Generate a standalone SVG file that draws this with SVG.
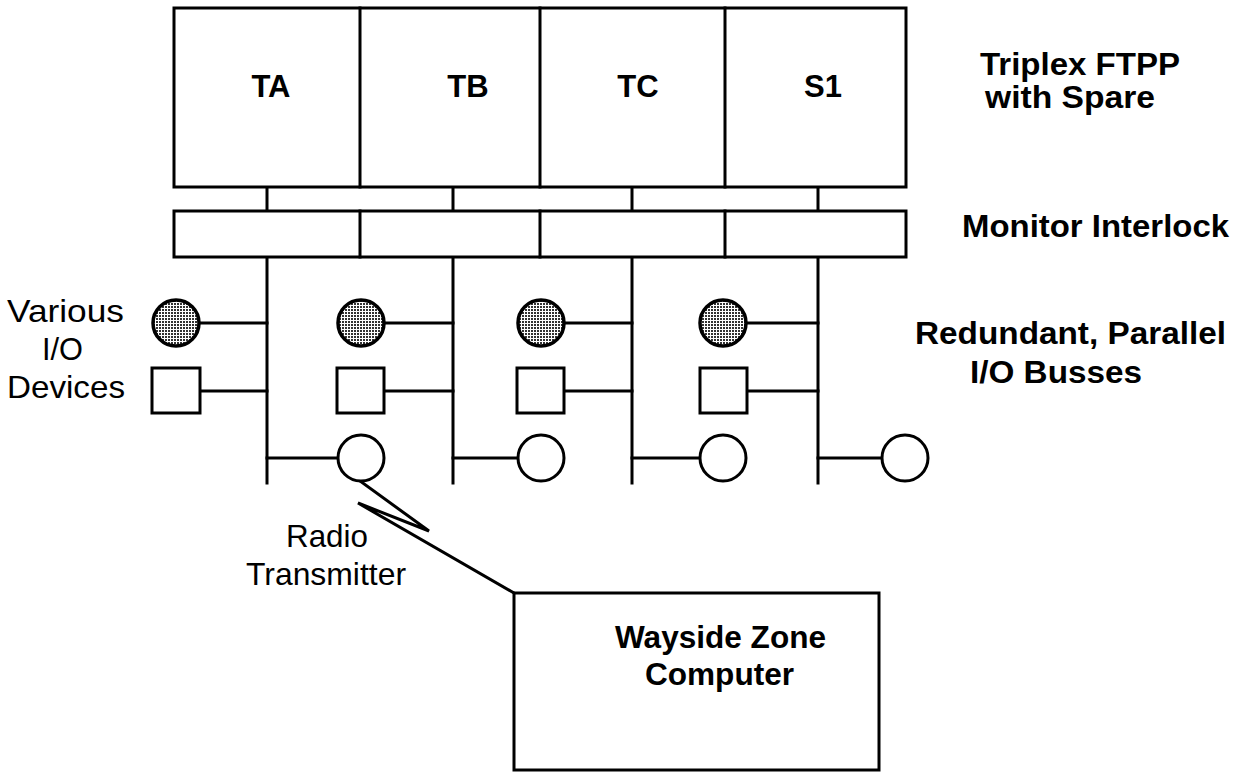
<svg xmlns="http://www.w3.org/2000/svg" width="1236" height="773" viewBox="0 0 1236 773">
<style>
.ln{stroke:#000;stroke-width:3;fill:none;stroke-linecap:square}
.bx{stroke:#000;stroke-width:3;fill:#fff}
.sh{stroke:#000;stroke-width:3.5;fill:url(#dots)}
.op{stroke:#000;stroke-width:3;fill:#fff}
.b{font-family:"Liberation Sans",Arial,sans-serif;font-weight:bold;font-size:32px;fill:#000}
.t{font-family:"Liberation Sans",Arial,sans-serif;font-weight:bold;font-size:31px;fill:#000}
.r{font-family:"Liberation Sans",Arial,sans-serif;font-size:32px;fill:#000}
</style>
<defs>
<pattern id="dots" patternUnits="userSpaceOnUse" width="3" height="3">
<rect width="3" height="3" fill="#fff"/>
<rect width="2" height="2" fill="#333"/>
</pattern>
</defs>
<rect width="1236" height="773" fill="#fff"/>
<g id="connectors">
<path class="ln" d="M267 187V211M453 187V211M632 187V211M818 187V211"/>
<path class="ln" d="M267 257V483M453 257V483M632 257V483M818 257V483"/>
<path class="ln" d="M199 323H267M384 323H453M564 323H632M746 323H818"/>
<path class="ln" d="M200 391H267M384 391H453M564 391H632M747 391H818"/>
<path class="ln" d="M267 458H338M453 458H518M632 458H700M818 458H882"/>
<path class="ln" d="M360 481L429 531L358 503L514 593" stroke-linejoin="miter"/>
</g>
<g id="ftpp">
<rect class="bx" x="174" y="8" width="732" height="179"/>
<path class="ln" d="M360 8V187M540 8V187M725 8V187"/>
<text class="t" x="271" y="97" text-anchor="middle">TA</text>
<text class="t" x="468" y="97" text-anchor="middle">TB</text>
<text class="t" x="638" y="97" text-anchor="middle">TC</text>
<text class="t" x="823" y="97" text-anchor="middle">S1</text>
</g>
<g id="monitor">
<rect class="bx" x="174" y="211" width="732" height="46"/>
<path class="ln" d="M360 211V257M540 211V257M725 211V257"/>
</g>
<g id="io-devices">
<circle class="sh" cx="176" cy="323" r="23"/>
<circle class="sh" cx="361" cy="323" r="23"/>
<circle class="sh" cx="541" cy="323" r="23"/>
<circle class="sh" cx="723" cy="323" r="23"/>
<rect class="op" x="152" y="368" width="48" height="45"/>
<rect class="op" x="337" y="368" width="47" height="45"/>
<rect class="op" x="517" y="368" width="47" height="45"/>
<rect class="op" x="700" y="368" width="47" height="45"/>
<circle class="op" cx="361" cy="458" r="23"/>
<circle class="op" cx="541" cy="458" r="23"/>
<circle class="op" cx="723" cy="458" r="23"/>
<circle class="op" cx="905" cy="458" r="23"/>
</g>
<g id="wayside">
<rect class="bx" x="514" y="593" width="365" height="177"/>
<text class="b" x="615" y="648" textLength="211" lengthAdjust="spacingAndGlyphs">Wayside Zone</text>
<text class="b" x="645" y="685" textLength="149" lengthAdjust="spacingAndGlyphs">Computer</text>
</g>
<g id="labels">
<text class="b" x="980" y="75" textLength="200" lengthAdjust="spacingAndGlyphs">Triplex FTPP</text>
<text class="b" x="985" y="108" textLength="170" lengthAdjust="spacingAndGlyphs">with Spare</text>
<text class="b" x="962" y="237" textLength="267" lengthAdjust="spacingAndGlyphs">Monitor Interlock</text>
<text class="b" x="915" y="344" textLength="311" lengthAdjust="spacingAndGlyphs">Redundant, Parallel</text>
<text class="b" x="970" y="383" textLength="172" lengthAdjust="spacingAndGlyphs">I/O Busses</text>
<text class="r" x="7" y="322" textLength="117" lengthAdjust="spacingAndGlyphs">Various</text>
<text class="r" x="42" y="360" textLength="41" lengthAdjust="spacingAndGlyphs">I/O</text>
<text class="r" x="7" y="398" textLength="118" lengthAdjust="spacingAndGlyphs">Devices</text>
<text class="r" x="286" y="547" textLength="82" lengthAdjust="spacingAndGlyphs">Radio</text>
<text class="r" x="246" y="585" textLength="160" lengthAdjust="spacingAndGlyphs">Transmitter</text>
</g>
</svg>
